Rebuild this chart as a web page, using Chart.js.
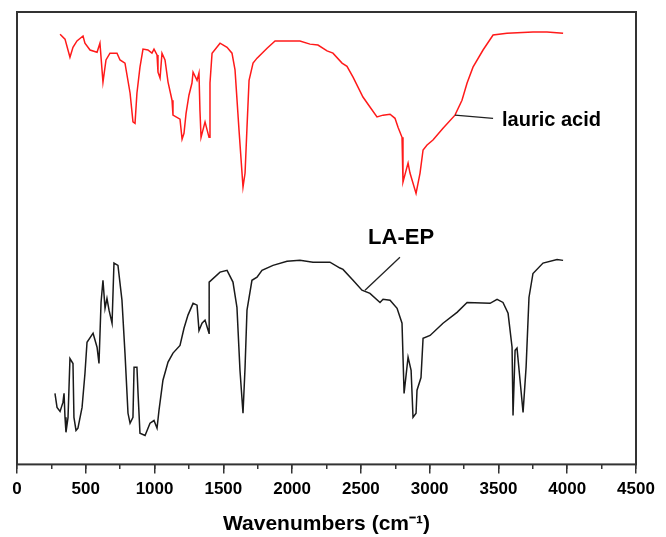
<!DOCTYPE html>
<html>
<head>
<meta charset="utf-8">
<script src="https://cdn.jsdelivr.net/npm/chart.js@4.4.1/dist/chart.umd.min.js"></script>
<style>
  html, body { margin: 0; padding: 0; background: #fff; }
  #wrap { width: 666px; height: 537px; }
</style>
</head>
<body>
<div id="wrap"><canvas id="ftir"></canvas></div>
<script>
// Lauric acid spectrum (wavenumber, transmittance a.u.)
const laWn = [313, 349, 385, 407, 436, 480, 494, 531, 582, 603, 625, 647, 676, 727, 749, 785, 822, 843, 858, 872,
  894, 916, 952, 981, 996, 1018, 1025, 1040, 1054, 1076, 1098, 1127, 1134, 1185, 1200, 1214, 1229, 1250, 1272, 1280,
  1309, 1323, 1330, 1338, 1367, 1396, 1403, 1418, 1476, 1527, 1563, 1585, 1614, 1643, 1658, 1672, 1687, 1716, 1745, 1818,
  1876, 2057, 2130, 2188, 2254, 2297, 2363, 2399, 2443, 2515, 2566, 2617, 2661, 2712, 2748, 2770, 2799, 2806, 2835, 2843,
  2857, 2901, 2930, 2952, 2981, 3024, 3097, 3184, 3235, 3272, 3315, 3388, 3461, 3562, 3751, 3853, 3970];
const laT = [95.1, 94.0, 90.0, 92.2, 93.6, 94.7, 93.1, 91.6, 91.1, 93.1, 84.5, 89.4, 90.9, 90.9, 89.4, 88.7, 82.1, 75.7, 75.4, 82.1,
  87.8, 91.8, 91.6, 90.9, 91.8, 90.5, 86.7, 85.4, 90.9, 89.4, 84.5, 80.5, 77.2, 76.3, 71.9, 73.2, 77.6, 81.6, 84.3, 86.7,
  84.9, 86.5, 78.3, 72.3, 75.7, 72.3, 84.3, 90.9, 93.1, 92.2, 90.9, 87.2, 73.9, 61.3, 64.4, 74.5, 84.9, 88.7, 89.8, 92.0,
  93.6, 93.6, 92.9, 92.7, 91.4, 90.9, 88.7, 88.0, 85.6, 81.2, 79.0, 76.8, 77.2, 77.4, 76.5, 74.5, 72.3, 62.4, 65.7, 66.6,
  64.4, 59.9, 64.4, 69.5, 70.6, 71.7, 74.3, 77.2, 80.5, 84.3, 87.8, 91.6, 94.9, 95.3, 95.6, 95.6, 95.3];

// LA-EP spectrum
const epWn = [276, 291, 313, 334, 342, 349, 356, 371, 385, 407, 414, 429, 443, 473, 494, 509, 553, 582, 596, 611,
  625, 640, 654, 669, 691, 705, 734, 763, 785, 807, 822, 843, 851, 872, 880, 894, 931, 967, 996, 1018,
  1032, 1061, 1098, 1134, 1185, 1214, 1243, 1280, 1309, 1323, 1345, 1367, 1381, 1396, 1397, 1476, 1527, 1570, 1599, 1621,
  1643, 1658, 1672, 1708, 1745, 1781, 1861, 1963, 2057, 2152, 2275, 2348, 2370, 2443, 2508, 2566, 2639, 2661, 2712, 2763,
  2799, 2814, 2843, 2865, 2879, 2901, 2908, 2937, 2952, 3003, 3097, 3199, 3272, 3439, 3490, 3533, 3570, 3599, 3606, 3621,
  3635, 3657, 3679, 3701, 3722, 3751, 3824, 3926, 3970];
const epT = [15.7, 12.6, 11.7, 13.7, 15.7, 10.4, 7.1, 10.4, 23.4, 22.3, 10.4, 7.5, 8.0, 12.6, 20.1, 27.0, 29.0, 25.9, 22.3, 35.8,
  40.7, 34.5, 36.7, 34.1, 31.2, 44.5, 44.0, 36.3, 24.6, 11.3, 9.1, 10.4, 21.5, 21.5, 15.7, 6.9, 6.4, 9.1, 9.7, 8.0,
  11.9, 18.6, 22.6, 24.6, 26.3, 30.1, 33.0, 35.6, 35.2, 29.6, 31.2, 31.9, 30.5, 29.0, 40.3, 42.5, 42.9, 40.3, 34.7, 20.8,
  11.3, 21.5, 34.1, 40.7, 41.4, 42.9, 44.0, 44.9, 45.1, 44.7, 44.7, 43.4, 43.1, 40.7, 38.5, 37.8, 35.8, 36.5, 36.3, 34.5,
  31.2, 15.7, 23.7, 20.8, 10.4, 11.3, 16.4, 19.2, 27.9, 28.5, 31.2, 33.6, 35.8, 35.6, 36.5, 35.8, 33.4, 25.9, 10.8, 25.2,
  25.7, 18.6, 11.5, 21.5, 36.9, 42.2, 44.5, 45.3, 45.1];

// Labels with leader lines: [text, textX, textY, lineFromX, lineFromY, lineToX, lineToY]
const laLabel = ["lauric acid", 3526, 76.1, 3184, 77.2, 3461, 76.5];
const epLabel = ["LA-EP", 2792, 50.0, 2530, 38.5, 2784, 45.8];

const toPoints = (xs, ys) => xs.map((x, i) => ({ x: x, y: ys[i] }));

// Frame round the plot area + curve labels
const framePlugin = {
  id: "frame",
  afterDraw(chart) {
    const { ctx, chartArea: a, scales } = chart;
    const sx = scales.x, sy = scales.y;
    ctx.save();
    ctx.strokeStyle = "#333";
    ctx.lineWidth = 2;
    ctx.strokeRect(a.left, a.top, a.right - a.left, a.bottom - a.top);

    [[laLabel, 20], [epLabel, 22]].forEach(([lab, size]) => {
      ctx.strokeStyle = "#222";
      ctx.lineWidth = 1.3;
      ctx.beginPath();
      ctx.moveTo(sx.getPixelForValue(lab[3]), sy.getPixelForValue(lab[4]));
      ctx.lineTo(sx.getPixelForValue(lab[5]), sy.getPixelForValue(lab[6]));
      ctx.stroke();
      ctx.fillStyle = "#000";
      ctx.font = "bold " + size + "px 'Liberation Sans', Arial, sans-serif";
      ctx.textBaseline = "middle";
      ctx.textAlign = lab === epLabel ? "center" : "left";
      ctx.fillText(lab[0], sx.getPixelForValue(lab[1]), sy.getPixelForValue(lab[2]));
    });
    ctx.restore();
  }
};

new Chart(document.getElementById("ftir"), {
  type: "line",
  data: {
    datasets: [
      {
        label: "lauric acid",
        data: toPoints(laWn, laT),
        borderColor: "#ff1a1a",
        borderWidth: 1.5,
        pointRadius: 0,
        tension: 0
      },
      {
        label: "LA-EP",
        data: toPoints(epWn, epT),
        borderColor: "#1a1a1a",
        borderWidth: 1.5,
        pointRadius: 0,
        tension: 0
      }
    ]
  },
  options: {
    responsive: true,
    maintainAspectRatio: false,
    animation: false,
    layout: { padding: { left: 17, right: 30, top: 12, bottom: 0 } },
    plugins: {
      legend: { display: false },
      tooltip: { enabled: false }
    },
    scales: {
      x: {
        type: "linear",
        min: 0,
        max: 4500,
        border: { display: false },
        grid: { drawOnChartArea: false, tickLength: 9, color: "#333", lineWidth: 1.5 },
        ticks: {
          stepSize: 500,
          padding: 6,
          color: "#000",
          maxRotation: 0,
          callback: (v) => String(v),
          font: { family: "'Liberation Sans', Arial, sans-serif", size: 17, weight: "bold" }
        },
        title: {
          display: true,
          text: "Wavenumbers (cm\u207B\u00B9)",
          color: "#000",
          padding: { top: 6, bottom: 0 },
          font: { family: "'Liberation Sans', Arial, sans-serif", size: 21, weight: "bold" }
        }
      },
      xMinor: {
        type: "linear",
        min: 0,
        max: 4500,
        position: { y: 0 },
        border: { display: false },
        grid: { drawOnChartArea: false, tickLength: 5, color: "#333", lineWidth: 1.5 },
        ticks: { stepSize: 250, display: false }
      },
      y: {
        min: 0,
        max: 100,
        display: false
      }
    }
  },
  plugins: [framePlugin]
});
</script>
</body>
</html>
